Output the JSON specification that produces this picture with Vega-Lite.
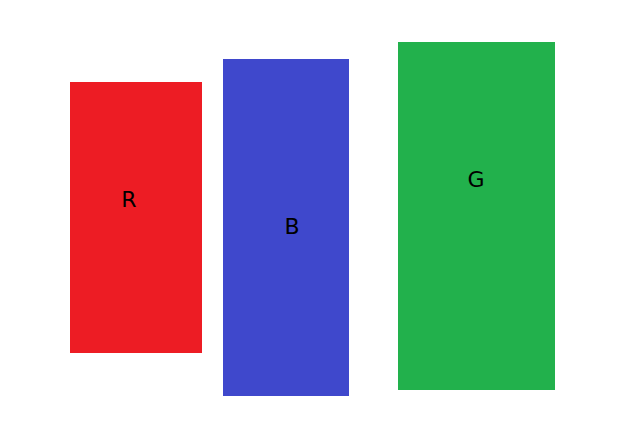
{
  "$schema": "https://vega.github.io/schema/vega-lite/v6.json",
  "width": 620,
  "height": 431,
  "autosize": {"type": "fit", "contains": "padding"},
  "padding": 0,
  "background": "white",
  "config": {"view": {"stroke": null}},
  "data": {
    "values": [
      {"label": "R", "left": 70, "right": 202, "top": 82, "bottom": 353, "lx": 129, "ly": 200},
      {"label": "B", "left": 223, "right": 349, "top": 59, "bottom": 396, "lx": 292, "ly": 227},
      {"label": "G", "left": 398, "right": 555, "top": 42, "bottom": 390, "lx": 476, "ly": 180}
    ]
  },
  "layer": [
    {
      "mark": {"type": "rect"},
      "encoding": {
        "x": {"field": "left", "type": "quantitative", "scale": {"domain": [0, 620], "nice": false, "zero": false}, "axis": null},
        "x2": {"field": "right"},
        "y": {"field": "top", "type": "quantitative", "scale": {"domain": [0, 431], "nice": false, "zero": false, "reverse": true}, "axis": null},
        "y2": {"field": "bottom"},
        "color": {
          "field": "label",
          "type": "nominal",
          "scale": {"domain": ["R", "B", "G"], "range": ["#ED1C24", "#3F48CC", "#22B14C"]},
          "legend": null
        }
      }
    },
    {
      "mark": {"type": "text", "font": "DejaVu Sans", "fontSize": 22, "color": "black", "align": "center", "baseline": "middle"},
      "encoding": {
        "x": {"field": "lx", "type": "quantitative"},
        "y": {"field": "ly", "type": "quantitative"},
        "text": {"field": "label", "type": "nominal"}
      }
    }
  ]
}
